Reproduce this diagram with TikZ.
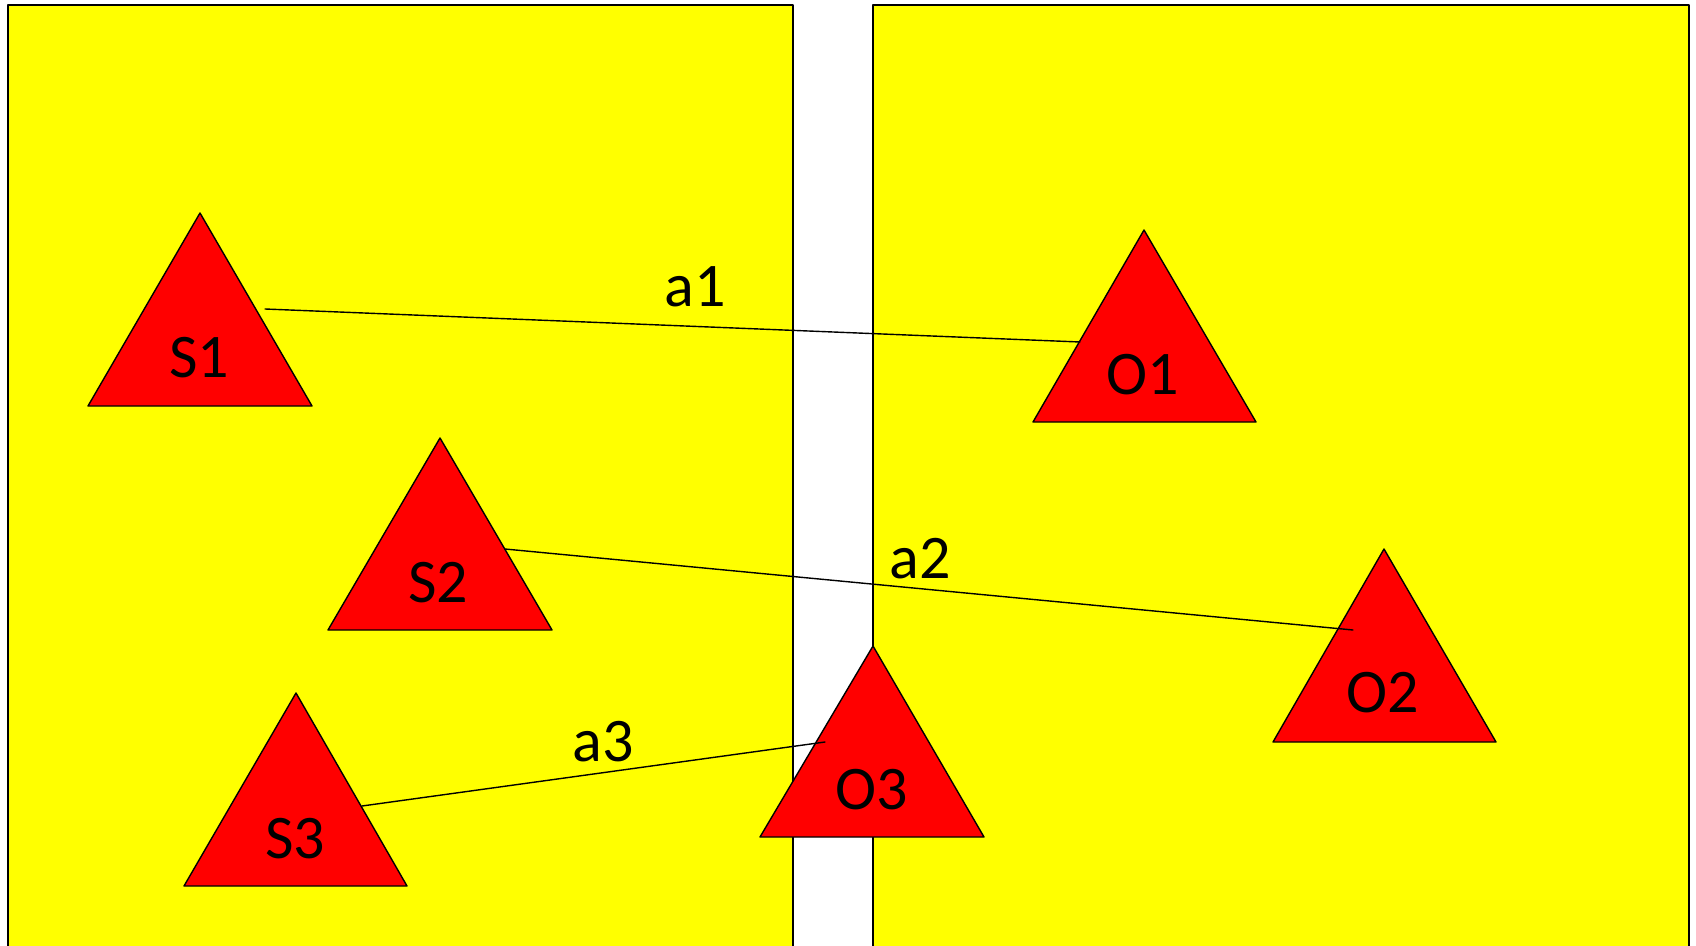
\documentclass[tikz,border=0pt]{standalone}
\usepackage{fontspec}
\setmainfont{Carlito}
\usepackage{tkz-euclide}
\definecolor{AreaClr}{RGB}{255,255,0}
\definecolor{ShapeClr}{RGB}{255,0,0}

\begin{document}
\begin{tikzpicture}[x=0.5pt,y=-0.5pt]
\useasboundingbox (0,0) rectangle (1696,946);
\clip (0,0) rectangle (1696,946);
\tkzSetUpLine[line width=0.7pt,color=black]

\tkzDefPoints{8/5/LA,793/5/LB,793/960/LC,8/960/LD}
\tkzDefPoints{873/5/RA,1689/5/RB,1689/960/RC,873/960/RD}

\tkzDefPoints{200/213/S1,88/406/S1l,312/406/S1r}
\tkzDefPoints{440/438/S2,328/630/S2l,552/630/S2r}
\tkzDefPoints{296/693/S3,184/886/S3l,407/886/S3r}
\tkzDefPoints{1144/230/O1,1033/422/O1l,1256/422/O1r}
\tkzDefPoints{1384/549/O2,1273/742/O2l,1496/742/O2r}
\tkzDefPoints{873/646/O3,760/837/O3l,984/837/O3r}

\tkzDefPoints{265/309/A1s,1080/342/A1t,505/549/A2s,1353/630/A2t,362/806/A3s,825/742/A3t}

\tkzDrawPolygon[fill=AreaClr,line width=0.9pt](LA,LB,LC,LD)
\tkzDrawPolygon[fill=AreaClr,line width=0.9pt](RA,RB,RC,RD)

\tkzDrawPolygon[fill=ShapeClr](S1,S1l,S1r)
\tkzDrawPolygon[fill=ShapeClr](S2,S2l,S2r)
\tkzDrawPolygon[fill=ShapeClr](S3,S3l,S3r)
\tkzDrawPolygon[fill=ShapeClr](O1,O1l,O1r)
\tkzDrawPolygon[fill=ShapeClr](O2,O2l,O2r)
\tkzDrawPolygon[fill=ShapeClr](O3,O3l,O3r)

\tkzDrawSegments(A1s,A1t A2s,A2t A3s,A3t)

\tikzset{lbl/.style={font=\fontsize{31}{31}\selectfont,inner sep=0pt}}
\node[lbl] (tS1) at (199,358) {S1};
\node[lbl] (tS2) at (438,583) {S2};
\node[lbl] (tS3) at (295,839) {S3};
\node[lbl] (tO1) at (1143,375) {O1};
\node[lbl] (tO2) at (1383,693) {O2};
\node[lbl] (tO3) at (872,790) {O3};
\node[lbl] (ta1) at (695,287) {a1};
\node[lbl] (ta2) at (920,559) {a2};
\node[lbl] (ta3) at (603,742) {a3};

\end{tikzpicture}
\end{document}
